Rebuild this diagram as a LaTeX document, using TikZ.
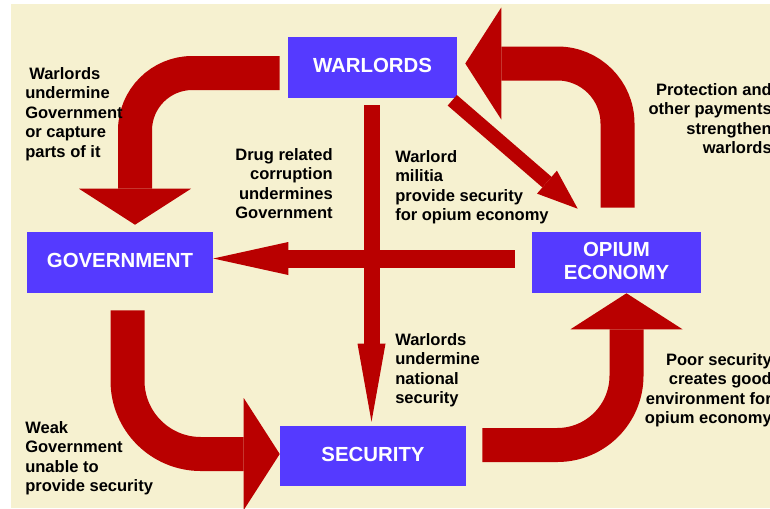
\documentclass[tikz,border=0pt]{standalone}
\usepackage{fontspec}
\setmainfont{Liberation Sans}
\usetikzlibrary{arrows.meta,calc}
\definecolor{cream}{RGB}{246,241,208}
\definecolor{boxblue}{RGB}{85,58,255}
\definecolor{arrowred}{RGB}{185,0,0}
\tikzset{
  box/.style={fill=boxblue, text=white, font=\fontsize{15.3}{17.3}\selectfont\bfseries, align=center, inner sep=0pt, text depth=3pt},
  lbl/.style={font=\fontsize{12.4}{14.6}\selectfont\bfseries, inner sep=0pt},
  bigarrow/.style={draw=arrowred, line width=25.5pt, rounded corners=43pt, -{Triangle[width=84pt,length=27pt,line width=0pt]}},
  thinarrow/.style={draw=arrowred, -{Triangle[line width=0pt,#1]}},
}
\begin{document}
\begin{tikzpicture}[x=0.75pt,y=-0.75pt]
\useasboundingbox (0,0) rectangle (770,508);
\fill[cream] (11,4) rectangle (770,508);
\node[box, minimum width=126.75pt, minimum height=45.75pt] (warlords) at (372.5,67.5){WARLORDS};
\node[box, minimum width=139.5pt, minimum height=45.75pt] (government) at (120,262.5){GOVERNMENT};
\node[box, minimum width=126.75pt, minimum height=45.75pt] (opium) at (616.5,262.5){OPIUM\\ECONOMY};
\node[box, minimum width=139.5pt, minimum height=45pt] (security) at (373,456){SECURITY};
\draw[bigarrow] ($(warlords.west)+(-8,5.5)$) -| ($(government.north)+(15,-7)$);
\draw[bigarrow, rounded corners=45pt] ($(opium.north)+(1,-24)$) |- ($(warlords.east)+(8,-4)$);
\draw[bigarrow, rounded corners=55pt] ($(government.south)+(7.5,17)$) |- ($(security.west)+(0,-2)$);
\draw[bigarrow, rounded corners=52pt] ($(security.east)+(16,-11)$) -| ($(opium.south)+(10,0)$);
\draw[thinarrow={width=22.8pt,length=30.5pt}, line width=10.5pt] ($(warlords.south east)+(-5,2)$) -- ($(opium.north west)+(46,-23)$);
\draw[thinarrow={width=21pt,length=58.5pt}, line width=12pt] ($(warlords.south)+(-1,7)$) -- ($(security.north)+(-1.5,-4)$);
\draw[thinarrow={width=24.75pt,length=56.25pt}, line width=13.5pt] ($(opium.west)+(-17,-4)$) -- ($(government.east)+(0,-4)$);
\node[lbl, anchor=north west, align=left] (undermine) at (25,67){\hspace*{3pt}Warlords\\undermine\\Government\\or capture\\parts of it};
\node[lbl, anchor=north east, align=right] (corruption) at (333,148){Drug related\\corruption\\undermines\\Government};
\node[lbl, anchor=north west, align=left] (militia) at (395,150){Warlord\\militia\\provide security\\for opium economy};
\node[lbl, anchor=north east, align=right] (payments) at (772,83){Protection and\\other payments\\strengthen\\warlords};
\node[lbl, anchor=north west, align=left] (national) at (395,333){Warlords\\undermine\\national\\security};
\node[lbl, anchor=north east, align=right] (poor) at (772,353){Poor security\\creates good\\environment for\\opium economy};
\node[lbl, anchor=north west, align=left] (weak) at (25,421){Weak\\Government\\unable to\\provide security};
\end{tikzpicture}
\end{document}
